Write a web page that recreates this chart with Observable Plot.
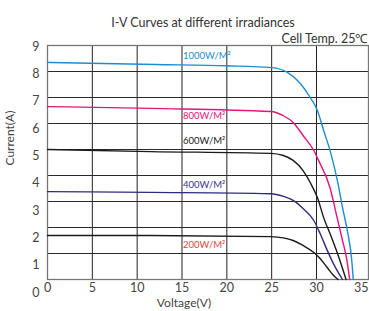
<!DOCTYPE html>
<html><head><meta charset="utf-8">
<script src="https://cdn.jsdelivr.net/npm/d3@7"></script>
<script src="https://cdn.jsdelivr.net/npm/@observablehq/plot@0.6"></script>
<style>body{margin:0;background:#fff;} svg{display:block}</style>
</head><body><div id="chart"></div>
<script>
// ---- data ----
const seriesNames = ["1000W/M²", "800W/M²", "600W/M²", "400W/M²", "200W/M²"];
const v1000 = [0, 12, 20, 25, 26.8, 28.2, 29.3, 30.1, 30.8, 31.6, 32.4, 32.9, 33.5, 33.9, 34.1];
const i1000 = [8.35, 8.27, 8.22, 8.15, 7.96, 7.54, 7.0, 6.5, 5.73, 4.85, 3.69, 2.77, 1.77, 0.85, 0];
const v800 = [0, 11.5, 24.9, 26.3, 27.4, 28.5, 29.7, 30.2, 31.5, 32.3, 32.9, 33.4, 33.7];
const i800 = [6.65, 6.58, 6.46, 6.3, 6.04, 5.54, 4.96, 4.6, 3.54, 2.38, 1.5, 0.73, 0];
const v600 = [0, 11.5, 24.9, 26.3, 27.4, 28.5, 29.3, 30.1, 30.8, 31.7, 32.5, 33.3];
const i600 = [5.0, 4.92, 4.85, 4.77, 4.58, 4.19, 3.73, 3.15, 2.38, 1.6, 0.85, 0];
const v400 = [0, 11.5, 24.9, 26.3, 27.4, 28.5, 29.7, 30.4, 31.2, 31.9, 32.9];
const i400 = [3.38, 3.35, 3.3, 3.2, 3.04, 2.73, 2.27, 1.77, 1.12, 0.6, 0];
const v200 = [0, 11.5, 24.9, 26.3, 27.4, 28.5, 29.7, 30.4, 31.2, 31.9, 32.4];
const i200 = [1.69, 1.69, 1.65, 1.6, 1.5, 1.31, 1.04, 0.81, 0.46, 0.15, 0];
const xTickLabels = [0, 5, 10, 15, 20, 25, 30, 35];
const xGridValues = [5, 10, 15, 20, 25, 30];
const yGridValues = [1, 2, 3, 4, 5, 6, 7, 8];
const yTickLabels = [0, 1, 2, 3, 4, 5, 6, 7, 8, 9];
const labelVoltage = 15;

// ---- styles ----
const lineColors = ["#1b8dd0", "#e5137d", "#1a1a1a", "#2f2b82", "#1a1a1a"];
const labelColors = ["#1b8dd0", "#e5137d", "#222", "#3b3690", "#e8453c"];
const labelDy = [-6, 9, -9, -7, 9];
// y tick labels in the original are slightly stretched relative to the grid
const yLabelStart = -0.5, yLabelStep = 1.051;

const vs = [v1000, v800, v600, v400, v200];
const is = [i1000, i800, i600, i400, i200];
const curves = seriesNames.map((name, k) => vs[k].map((v, j) => ({name, V: v, I: is[k][j]})));
const labels = seriesNames.map((name, k) => ({name, V: labelVoltage, I: is[k][0], k}));

const chart = Plot.plot({
  width: 369, height: 311,
  marginTop: 45, marginBottom: 32, marginLeft: 47, marginRight: 1,
  style: {fontFamily: "Lato, 'Open Sans', sans-serif", fontSize: "12px", color: "#333", background: "#fff"},
  x: {domain: [0, 35.8]},
  y: {domain: [0, 9]},
  marks: [
    Plot.gridX(xGridValues, {stroke: "#222", strokeOpacity: 1, strokeWidth: 1}),
    Plot.gridY(yGridValues, {stroke: "#2a2a2a", strokeOpacity: 1, strokeWidth: 1}),
    Plot.frame({stroke: "#777", strokeWidth: 1.3}),
    ...curves.map((c, k) => Plot.line(c, {x: "V", y: "I", stroke: lineColors[k], strokeWidth: 1.4, curve: "monotone-x"})),
    ...labels.map((d, k) => Plot.text([d], {x: "V", y: "I", text: "name", fill: labelColors[k], textAnchor: "start", dx: 1, dy: labelDy[k], fontSize: 9.5})),
    Plot.axisX(xTickLabels, {tickSize: 0, tickPadding: 4, label: null, fontSize: 12.5, fill: "#444"}),
    Plot.axisY(yTickLabels.map(v => yLabelStart + v * yLabelStep), {tickSize: 0, tickPadding: 8, label: null, tickFormat: (d, i) => yTickLabels[i], fontSize: 12.5, fill: "#444"}),
    Plot.text(["Voltage(V)"], {frameAnchor: "bottom", dx: -24, dy: 27, fontSize: 12, fill: "#444"}),
    Plot.text(["Current(A)"], {frameAnchor: "left", rotate: -90, dx: -37, dy: 3, fontSize: 12, fill: "#444"}),
    Plot.text(["I-V Curves at different irradiances"], {frameAnchor: "top", dx: -5, dy: -27, fontSize: 12.5, fill: "#333"}),
    Plot.text(["Cell Temp. 25℃"], {frameAnchor: "top-right", textAnchor: "end", dx: -1, dy: -11, fontSize: 12.5, fill: "#333"})
  ]
});
document.getElementById("chart").append(chart);
</script>
</body></html>
